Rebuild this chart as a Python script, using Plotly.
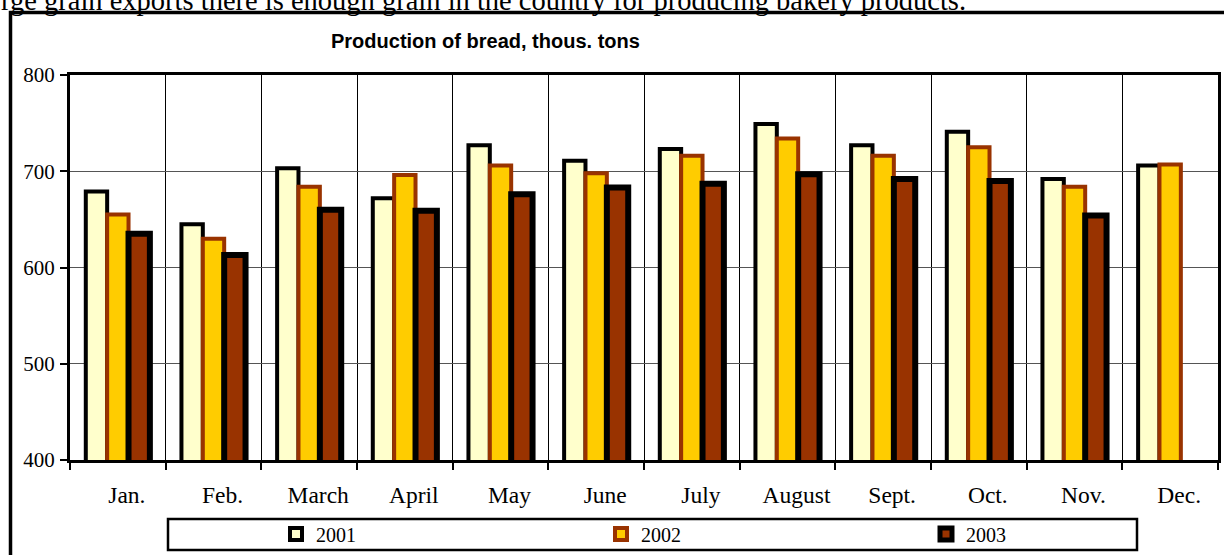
import plotly.graph_objects as go

months = ["Jan.", "Feb.", "March", "April", "May", "June", "July",
          "August", "Sept.", "Oct.", "Nov.", "Dec."]
y2001 = [679, 645, 703, 672, 727, 711, 723, 749, 727, 741, 692, 706]
y2002 = [655, 630, 684, 696, 706, 698, 716, 734, 716, 725, 684, 707]
y2003 = [635, 613, 660, 659, 676, 683, 687, 697, 692, 690, 654, None]
y_ticks = [400, 500, 600, 700, 800]

W, H = 1224, 555
L, R, T, B = 70, 6, 75, 95
PW, PH = W - L - R, H - T - B


def px(x):
    return (x - L) / PW


def py(y):
    return (H - B - y) / PH


fig = go.Figure()
fig.add_trace(go.Bar(name="2001", x=months, y=y2001,
                     marker=dict(color="#FFFFCC", line=dict(color="#000000", width=4))))
fig.add_trace(go.Bar(name="2002", x=months, y=y2002,
                     marker=dict(color="#FFCC00", line=dict(color="#993300", width=4))))
fig.add_trace(go.Bar(name="2003", x=months, y=y2003,
                     marker=dict(color="#993300", line=dict(color="#000000", width=6))))

serif = "Liberation Serif, Times New Roman, serif"

fig.update_layout(
    width=W, height=H,
    margin=dict(l=L, r=R, t=T, b=B, autoexpand=False),
    paper_bgcolor="white", plot_bgcolor="white",
    barmode="group", bargap=0.33, bargroupgap=0,
    showlegend=True,
    legend=dict(orientation="h", x=px(276), xanchor="left", y=py(534), yanchor="middle",
                font=dict(family=serif, size=20, color="black"),
                entrywidth=280, entrywidthmode="pixels",
                bgcolor="rgba(0,0,0,0)", borderwidth=0, traceorder="normal"),
    font=dict(family=serif, color="black"),
    xaxis=dict(tickson="boundaries", ticks="outside", ticklen=7, tickwidth=2, tickcolor="black",
               showgrid=True, gridcolor="black", gridwidth=1,
               showline=True, linecolor="black", linewidth=3, mirror=True,
               tickfont=dict(family=serif, size=23.5, color="black"),
               ticklabelstandoff=12, ticklabelshift=9),
    yaxis=dict(range=[400, 800], tickvals=y_ticks, ticks="outside", ticklen=7, tickwidth=2,
               tickcolor="black", showgrid=True, gridcolor="#555555", gridwidth=1,
               showline=True, linecolor="black", linewidth=3, mirror=True, zeroline=False,
               tickfont=dict(family=serif, size=21, color="black"), ticklabelstandoff=1),
)

# title
fig.add_annotation(text="<b>Production of bread, thous. tons</b>", xref="paper", yref="paper",
                   x=px(485), y=py(41), xanchor="center", yanchor="middle", showarrow=False,
                   font=dict(family="Liberation Sans, Arial, sans-serif", size=20, color="black"))
# clipped document text above chart
fig.add_annotation(text="rge grain exports there is enough grain in the country for producing bakery products.",
                   xref="paper", yref="paper", x=px(-1), y=py(0.5), xanchor="left", yanchor="middle",
                   showarrow=False, font=dict(family=serif, size=28.5, color="black"))

# outer chart frame (right and bottom edges lie off-page)
fig.add_shape(type="rect", xref="paper", yref="paper", x0=px(10.5), y0=py(12.5), x1=px(1240), y1=py(580),
              line=dict(color="black", width=3.5), layer="below")
# legend box
fig.add_shape(type="rect", xref="paper", yref="paper", x0=px(168), y0=py(519), x1=px(1137), y1=py(550),
              line=dict(color="black", width=2.5), layer="below")

fig.write_html("out.html", config={"displayModeBar": False},
               post_script="document.body.style.margin='0';document.body.style.overflow='hidden';")
